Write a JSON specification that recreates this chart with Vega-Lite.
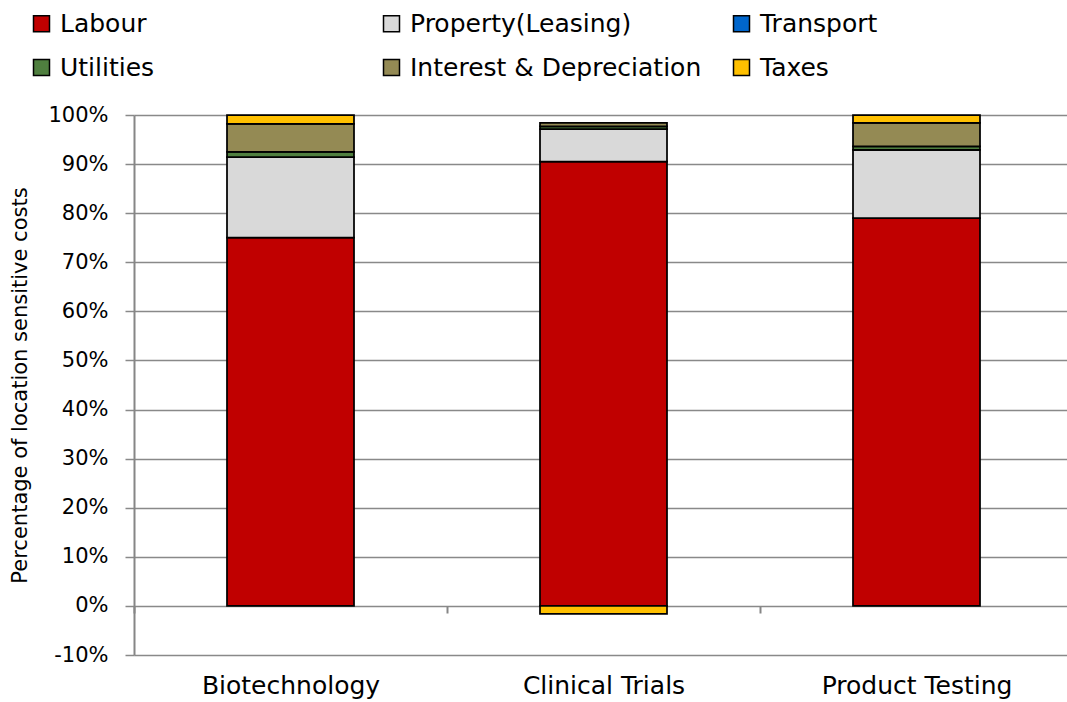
{
  "$schema": "https://vega.github.io/schema/vega-lite/v6.json",
  "autosize": "none",
  "width": 921,
  "height": 540,
  "padding": {"left": 134, "top": 115, "right": 12, "bottom": 47},
  "background": "white",
  "config": {
    "font": "DejaVu Sans",
    "view": {"stroke": null},
    "axis": {"labelFont": "DejaVu Sans", "titleFont": "DejaVu Sans", "labelColor": "#000000", "titleColor": "#000000", "titleFontWeight": "normal"}
  },
  "data": {
    "values": [
      {"sector": "Biotechnology", "cost": "Labour", "k": 1, "share": 0.750},
      {"sector": "Biotechnology", "cost": "Property(Leasing)", "k": 2, "share": 0.164},
      {"sector": "Biotechnology", "cost": "Transport", "k": 3, "share": 0.0},
      {"sector": "Biotechnology", "cost": "Utilities", "k": 4, "share": 0.011},
      {"sector": "Biotechnology", "cost": "Interest & Depreciation", "k": 5, "share": 0.057},
      {"sector": "Biotechnology", "cost": "Taxes", "k": 6, "share": 0.018},
      {"sector": "Clinical Trials", "cost": "Labour", "k": 1, "share": 0.905},
      {"sector": "Clinical Trials", "cost": "Property(Leasing)", "k": 2, "share": 0.066},
      {"sector": "Clinical Trials", "cost": "Transport", "k": 3, "share": 0.0},
      {"sector": "Clinical Trials", "cost": "Utilities", "k": 4, "share": 0.006},
      {"sector": "Clinical Trials", "cost": "Interest & Depreciation", "k": 5, "share": 0.007},
      {"sector": "Clinical Trials", "cost": "Taxes", "k": 6, "share": -0.016},
      {"sector": "Product Testing", "cost": "Labour", "k": 1, "share": 0.790},
      {"sector": "Product Testing", "cost": "Property(Leasing)", "k": 2, "share": 0.139},
      {"sector": "Product Testing", "cost": "Transport", "k": 3, "share": 0.0},
      {"sector": "Product Testing", "cost": "Utilities", "k": 4, "share": 0.007},
      {"sector": "Product Testing", "cost": "Interest & Depreciation", "k": 5, "share": 0.048},
      {"sector": "Product Testing", "cost": "Taxes", "k": 6, "share": 0.016}
    ]
  },
  "mark": {"type": "bar", "size": 127, "stroke": "#000000", "strokeWidth": 1.75},
  "encoding": {
    "x": {
      "field": "sector",
      "type": "nominal",
      "sort": ["Biotechnology", "Clinical Trials", "Product Testing"],
      "scale": {"range": [0, 939], "paddingInner": 0, "paddingOuter": 0},
      "axis": {
        "title": null,
        "labelAngle": 0,
        "labelFontSize": 25,
        "labelLimit": 400,
        "domain": false,
        "ticks": true,
        "tickBand": "extent",
        "tickColor": "#868686",
        "tickWidth": 2,
        "tickSize": 7,
        "offset": -49,
        "labelPadding": 60
      }
    },
    "y": {
      "field": "share",
      "type": "quantitative",
      "stack": "zero",
      "scale": {"domain": [-0.1, 1.0], "nice": false, "zero": false},
      "axis": {
        "title": "Percentage of location sensitive costs",
        "titleFontSize": 21,
        "titleX": -114,
        "titleY": 270,
        "titleAngle": -90,
        "titleAlign": "center",
        "titleBaseline": "middle",
        "format": ".0%",
        "labelExpr": "replace(datum.label, '\u2212', '-')",
        "values": [-0.1, 0, 0.1, 0.2, 0.3, 0.4, 0.5, 0.6, 0.7, 0.8, 0.9, 1.0],
        "labelFontSize": 21,
        "labelPadding": 17,
        "grid": true,
        "gridColor": "#898989",
        "gridWidth": 1.5,
        "domainColor": "#868686",
        "domainWidth": 2,
        "tickColor": "#898989",
        "tickWidth": 1.5,
        "tickSize": 9
      }
    },
    "color": {
      "field": "cost",
      "type": "nominal",
      "scale": {
        "domain": ["Labour", "Property(Leasing)", "Transport", "Utilities", "Interest & Depreciation", "Taxes"],
        "range": ["#C00000", "#D9D9D9", "#0066CC", "#4F7F3F", "#948A54", "#FFC000"]
      },
      "legend": {
        "title": null,
        "orient": "none",
        "legendX": -105,
        "legendY": -104,
        "direction": "horizontal",
        "columns": 3,
        "gridAlign": "all",
        "columnPadding": 27,
        "rowPadding": 18,
        "symbolType": "square",
        "symbolSize": 256,
        "symbolStrokeColor": "#000000",
        "symbolStrokeWidth": 1.5,
        "symbolOpacity": 1,
        "labelFontSize": 25,
        "labelOffset": 6,
        "labelLimit": 400,
        "labelColor": "#000000"
      }
    },
    "order": {"field": "k", "type": "quantitative"}
  }
}
